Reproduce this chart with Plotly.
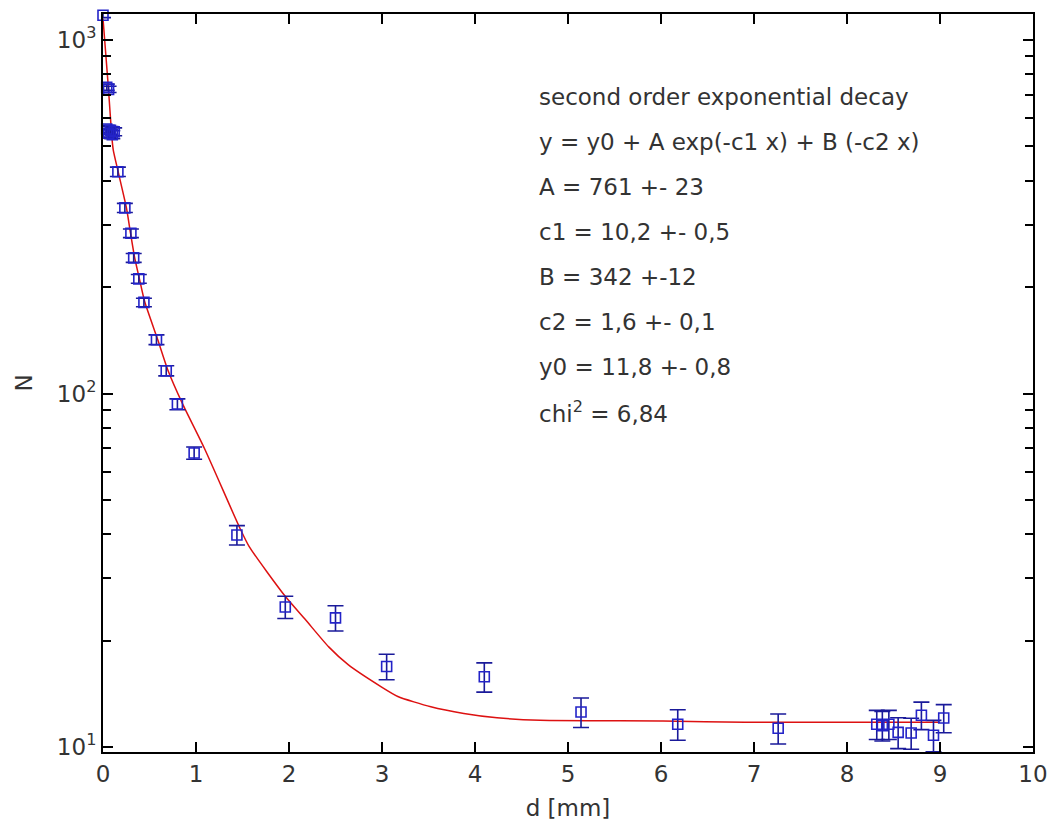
import plotly.graph_objects as go

# measured data (distance d in mm, counts N, error)
d_vals = [0.0, 0.04, 0.06, 0.04, 0.06, 0.08, 0.10, 0.12, 0.16, 0.235, 0.30, 0.33, 0.385, 0.44,
          0.575, 0.68, 0.80, 0.98, 1.44, 1.96, 2.50, 3.05, 4.10, 5.14, 6.18, 7.26,
          8.32, 8.38, 8.45, 8.55, 8.69, 8.80, 8.93, 9.04]
n_vals = [1175, 735, 725, 560, 545, 555, 540, 550, 424, 335, 284, 242, 211, 181,
          142, 116, 93.3, 67.9, 39.8, 24.9, 23.2, 16.9, 15.8, 12.56, 11.6, 11.3,
          11.6, 11.5, 11.6, 11.0, 10.96, 12.3, 10.8, 12.08]
n_err = [18, 15, 15, 14, 14, 14, 14, 14, 13, 10, 8, 7, 6, 5,
         4.5, 3.8, 3.3, 2.7, 2.5, 1.8, 1.9, 1.4, 1.5, 1.2, 1.15, 1.1,
         1.1, 1.1, 1.1, 1.1, 1.1, 1.1, 1.1, 1.1]

# fitted curve
fit_d = [0.0, 0.057, 0.093, 0.11, 0.163, 0.253, 0.296, 0.342, 0.395, 0.448, 0.59, 0.697,
         0.857, 1.09, 1.465, 1.572, 1.964, 2.178, 2.427, 2.636, 2.992, 3.17, 3.525,
         3.88, 4.237, 4.70, 6.02, 6.90, 9.0]
fit_n = [1150, 738, 540, 489, 424, 334, 284, 241, 209, 182, 141.6, 116.6,
         93.3, 70.0, 42.0, 36.9, 26.6, 22.9, 19.2, 17.1, 14.8, 13.9, 13.0,
         12.45, 12.1, 11.9, 11.85, 11.75, 11.75]

info_lines = [
    "second order exponential decay",
    "y = y0 + A exp(-c1 x) + B (-c2 x)",
    "A = 761 +- 23",
    "c1 = 10,2 +- 0,5",
    "B = 342 +-12",
    "c2 = 1,6 +- 0,1",
    "y0 = 11,8 +- 0,8",
    "chi<sup>2</sup> = 6,84",
]

x_ticks = [0, 1, 2, 3, 4, 5, 6, 7, 8, 9, 10]
y_ticks = [10, 100, 1000]
y_ticktext = ["10<sup>1</sup>", "10<sup>2</sup>", "10<sup>3</sup>"]
y_minor = [20, 30, 40, 50, 60, 70, 80, 90, 200, 300, 400, 500, 600, 700, 800, 900]

FONT = "DejaVu Sans"
BLUE = "#2323c8"
NAVY = "#1a1a9a"

fig = go.Figure()
fig.add_trace(go.Scatter(
    x=fit_d, y=fit_n, mode="lines",
    line=dict(color="#dd1111", width=1.5, shape="spline", smoothing=0.6),
    showlegend=False, hoverinfo="skip"))
fig.add_trace(go.Scatter(
    x=d_vals, y=n_vals, mode="markers", cliponaxis=False,
    marker=dict(symbol="square-open", size=10, color=BLUE, line=dict(width=1.6, color=BLUE)),
    error_y=dict(type="data", array=n_err, visible=True, color=NAVY, thickness=1.6, width=8),
    showlegend=False))

plot_left, plot_right, plot_top, plot_bottom = 103, 1040, 14, 752
W, H = 1060, 833
for i, line in enumerate(info_lines):
    ypx = 97 + 45 * i
    fig.add_annotation(
        text=line, xref="paper", yref="paper",
        x=(540 - plot_left) / (plot_right - plot_left),
        y=(plot_bottom - ypx) / (plot_bottom - plot_top),
        xanchor="left", yanchor="middle", showarrow=False,
        font=dict(family=FONT, size=23, color="#333333"))

fig.update_layout(
    width=W, height=H,
    margin=dict(l=plot_left, r=W - plot_right, t=plot_top, b=H - plot_bottom, pad=0),
    paper_bgcolor="white", plot_bgcolor="white",
    font=dict(family=FONT, size=23, color="#333333"),
)
fig.update_xaxes(
    range=[0, 10], tickvals=x_ticks, ticks="inside", ticklen=10, tickwidth=1.5,
    tickcolor="black", showline=True, linewidth=2, linecolor="black", mirror="ticks",
    showgrid=False, zeroline=False,
    title=dict(text="d [mm]", standoff=14, font=dict(family=FONT, size=23)),
    tickfont=dict(family=FONT, size=23, color="#333333"),
)
fig.update_yaxes(
    type="log", range=[0.986, 3.0735], tickvals=y_ticks, ticktext=y_ticktext,
    ticks="inside", ticklen=10, tickwidth=1.5, tickcolor="black",
    minor=dict(tickvals=y_minor, ticks="inside", ticklen=8, tickwidth=1.5,
               tickcolor="black", showgrid=False),
    showline=True, linewidth=2, linecolor="black", mirror="ticks",
    showgrid=False, zeroline=False,
    title=dict(text="N", standoff=18, font=dict(family=FONT, size=23)),
    tickfont=dict(family=FONT, size=23, color="#333333"),
)

fig.write_html("out.html")
